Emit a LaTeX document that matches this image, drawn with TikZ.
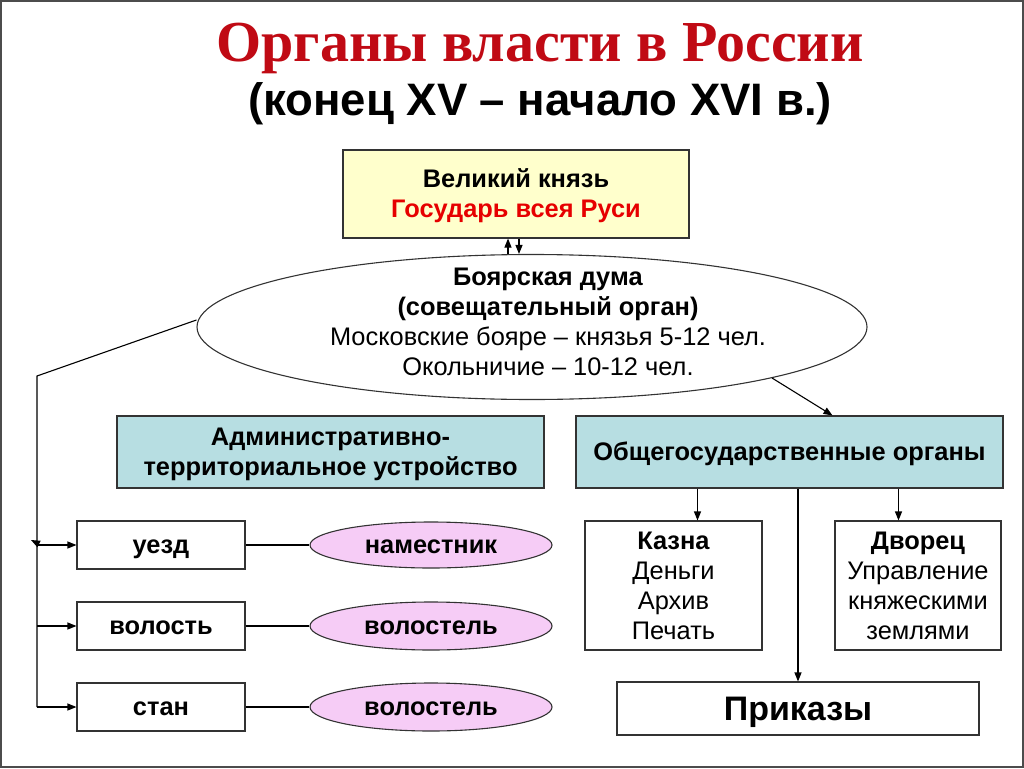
\documentclass[tikz,border=0pt]{standalone}
\usepackage{fontspec}
\setmainfont{Liberation Sans}
\newfontfamily\titlefont{Liberation Serif}
\usetikzlibrary{shapes.geometric,arrows.meta}
\definecolor{titlered}{RGB}{192,10,20}
\definecolor{kingred}{RGB}{230,0,0}
\definecolor{paleyellow}{RGB}{255,255,204}
\definecolor{paleteal}{RGB}{183,222,226}
\definecolor{palepink}{RGB}{246,204,246}
\newcommand\boxstrut{\rule[-0.24em]{0pt}{1.18em}}
\tikzset{
  box/.style={draw=black!80, line width=1.1pt, inner sep=0pt, align=center, font=\fontsize{25.4}{30}\selectfont,
    execute at end node=\boxstrut},
  bbox/.style={box, font=\bfseries\fontsize{25.4}{30}\selectfont},
  oval/.style={draw=black!80, ellipse, line width=1.1pt, inner sep=0pt, fill=palepink, font=\bfseries\fontsize{25.4}{30}\selectfont,
    execute at end node=\boxstrut}
}
\begin{document}
\begin{tikzpicture}[x=1pt,y=-1pt,>={Triangle[length=9pt,width=7pt]},line width=1.1pt]
\useasboundingbox (0,0) rectangle (1024,768);
\draw[black!70, line width=1.5pt] (1,1) rectangle (1023,767);

\node[text=titlered, font=\titlefont\bfseries\fontsize{58}{60}\selectfont] (title) at (540,48) {Органы власти в России};
\node[font=\bfseries\fontsize{45.5}{48}\selectfont] (subtitle) at (540,104) {(конец XV – начало XVI в.)};

\node[bbox, fill=paleyellow, minimum width=346pt, minimum height=88pt] (knyaz) at (516,194) {\boxstrut Великий князь\\\textcolor{kingred}{Государь всея Руси}};
\node[draw=black!80, ellipse, inner sep=0pt, minimum width=670pt, minimum height=145pt] (duma) at (532,327) {};
\node[align=center, font=\fontsize{25.4}{30}\selectfont] (dumatext) at (548,322) {\textbf{Боярская дума}\\\textbf{(совещательный орган)}\\Московские бояре – князья 5-12 чел.\\Окольничие – 10-12 чел.};

\node[bbox, fill=paleteal, minimum width=427pt, minimum height=72pt] (admin) at (330.5,452) {\boxstrut Административно-\\территориальное устройство};
\node[bbox, fill=paleteal, minimum width=427pt, minimum height=72pt] (obsh) at (789.5,452) {Общегосударственные органы};

\node[bbox, minimum width=168pt, minimum height=48pt] (uezd) at (161,545) {уезд};
\node[bbox, minimum width=168pt, minimum height=48pt] (volost) at (161,626) {волость};
\node[bbox, minimum width=168pt, minimum height=48pt] (stan) at (161,707) {стан};

\node[oval, minimum width=242pt, minimum height=46pt] (namest) at (431,545) {наместник};
\node[oval, minimum width=242pt, minimum height=48pt] (volostelA) at (431,626) {волостель};
\node[oval, minimum width=242pt, minimum height=48pt] (volostelB) at (431,707) {волостель};

\node[box, minimum width=177pt, minimum height=129pt] (kazna) at (673.5,585.5) {\boxstrut\textbf{Казна}\\Деньги\\Архив\\Печать};
\node[box, minimum width=166pt, minimum height=129pt] (dvorec) at (918,585.5) {\boxstrut\textbf{Дворец}\\Управление\\княжескими\\землями};
\node[box, font=\bfseries\fontsize{34}{40}\selectfont, minimum width=362pt, minimum height=53pt] (prikazy) at (798,708.5) {Приказы};

\draw[->] ([xshift=3pt]knyaz.south) -- ([xshift=-13pt]duma.north);
\draw[->] ([xshift=-24pt]duma.north) -- ([xshift=-8pt]knyaz.south);

\coordinate (bend) at (37,376);
\draw ([yshift=7pt]duma.west) -- (bend) -- (bend |- stan.west);
\draw[->] (bend |- uezd.west) -- (uezd.west);
\draw[->] (bend |- volost.west) -- (volost.west);
\draw[->] (bend |- stan.west) -- (stan.west);
\draw[->] ([yshift=2pt]bend |- uezd.west) -- ++(-6,-3);

\draw (uezd) -- (namest);
\draw (volost) -- (volostelA);
\draw (stan) -- (volostelB);

\draw[->] (duma.-12) -- ([xshift=43pt]obsh.north);

\coordinate (kaznain) at ([xshift=-92pt]obsh.south);
\coordinate (dvorecin) at ([xshift=109pt]obsh.south);
\draw[->] (kaznain) -- (kaznain |- kazna.north);
\draw[->] (dvorecin) -- (dvorecin |- dvorec.north);
\draw[->] (prikazy.north |- obsh.south) -- (prikazy.north);
\end{tikzpicture}
\end{document}
